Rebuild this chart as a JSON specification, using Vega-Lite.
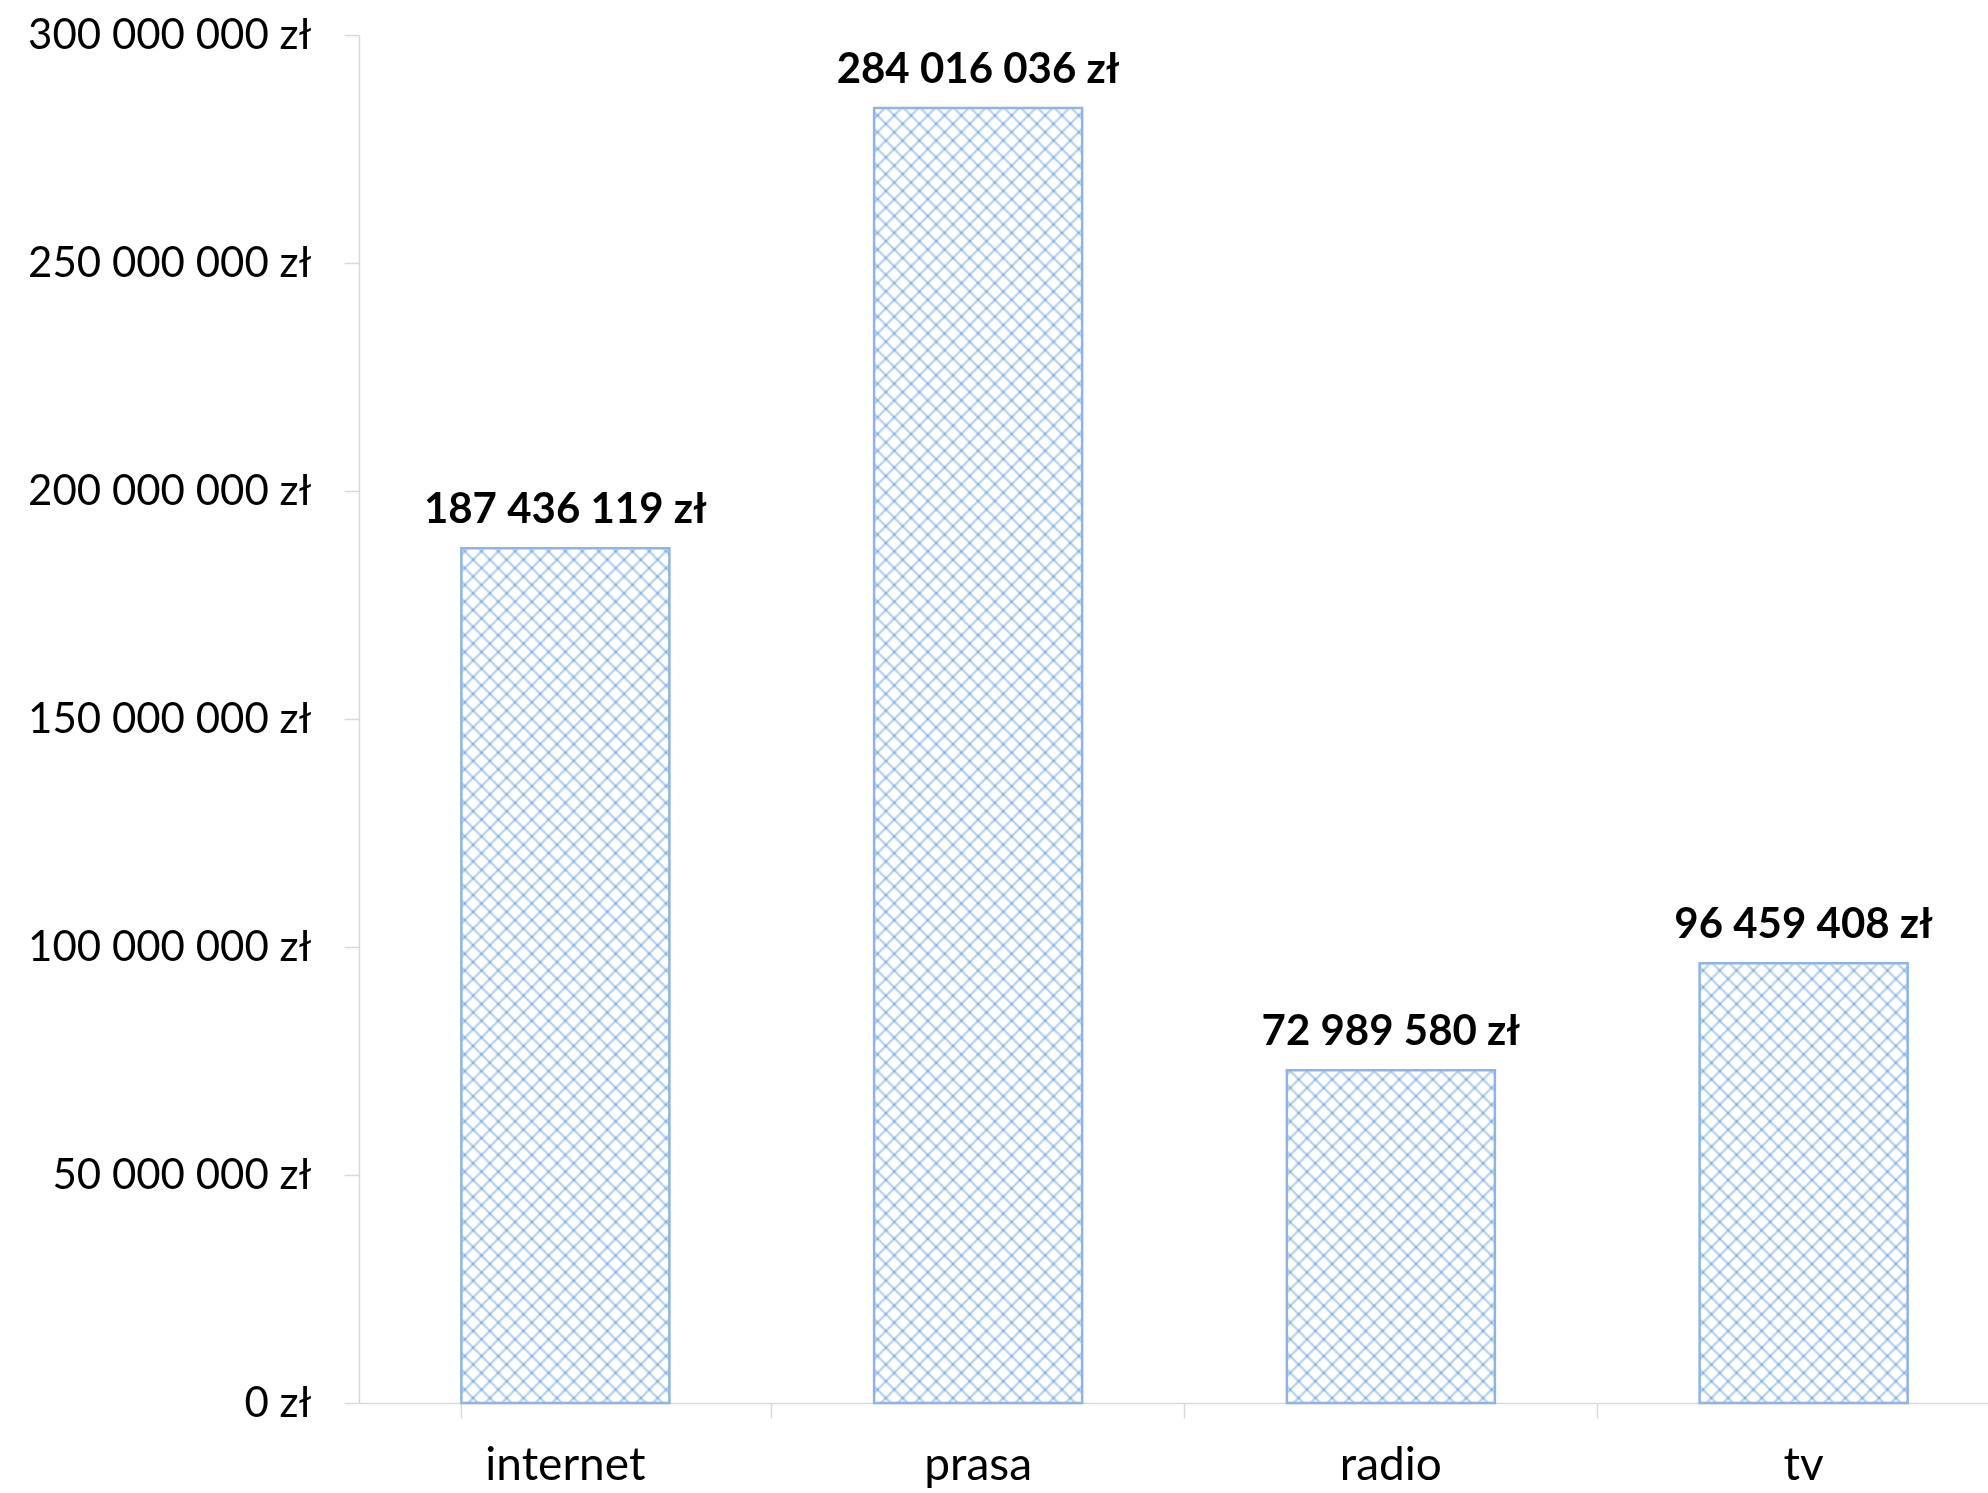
{
"$schema":"https://vega.github.io/schema/vega-lite/v6.json",
"width":1651,"height":1368,
"autosize":"none",
"padding":{"left":359,"top":35,"right":0,"bottom":90},
"background":"white",
"config":{
"view":{"stroke":null},
"font":"Lato",
"locale":{"number":{"decimal":",","thousands":" ","grouping":[3],"currency":["","\u00a0zł"]}},
"axis":{"labelFont":"Lato","labelFontSize":42,"labelColor":"#000","labelLimit":600,"domainColor":"#d9d9d9","tickColor":"#d9d9d9","domainWidth":1.5,"tickWidth":1.5,"tickSize":15,"grid":false}
},
"data":{"values":[
{"cat":"internet","value":187436119},
{"cat":"prasa","value":284016036},
{"cat":"radio","value":72989580},
{"cat":"tv","value":96459408}
]},
"encoding":{"x":{"field":"cat","type":"nominal","sort":null,"title":null,"scale":{"paddingInner":0.496,"paddingOuter":0.248},"axis":{"bandPosition":1.492,"tickExtra":true,"labelAngle":0,"labelFontSize":46,"labelBaseline":"alphabetic","labelPadding":61}}},
"layer":[
{"mark":{"type":"bar","stroke":null,"fill":{"gradient":"linear","x1":0,"y1":0,"x2":0.17121,"y2":1.12601,"stops":[
{"offset":0,"color":"#ace"},{"offset":0.0018,"color":"#fff"},
{"offset":0.0088,"color":"#fff"},{"offset":0.0106,"color":"#ace"},{"offset":0.0124,"color":"#fff"},
{"offset":0.0195,"color":"#fff"},{"offset":0.0213,"color":"#ace"},{"offset":0.0231,"color":"#fff"},
{"offset":0.0301,"color":"#fff"},{"offset":0.0319,"color":"#ace"},{"offset":0.0337,"color":"#fff"},
{"offset":0.0408,"color":"#fff"},{"offset":0.0426,"color":"#ace"},{"offset":0.0444,"color":"#fff"},
{"offset":0.0514,"color":"#fff"},{"offset":0.0532,"color":"#ace"},{"offset":0.0550,"color":"#fff"},
{"offset":0.0620,"color":"#fff"},{"offset":0.0638,"color":"#ace"},{"offset":0.0656,"color":"#fff"},
{"offset":0.0727,"color":"#fff"},{"offset":0.0745,"color":"#ace"},{"offset":0.0763,"color":"#fff"},
{"offset":0.0833,"color":"#fff"},{"offset":0.0851,"color":"#ace"},{"offset":0.0869,"color":"#fff"},
{"offset":0.0939,"color":"#fff"},{"offset":0.0957,"color":"#ace"},{"offset":0.0975,"color":"#fff"},
{"offset":0.1046,"color":"#fff"},{"offset":0.1064,"color":"#ace"},{"offset":0.1082,"color":"#fff"},
{"offset":0.1152,"color":"#fff"},{"offset":0.1170,"color":"#ace"},{"offset":0.1188,"color":"#fff"},
{"offset":0.1259,"color":"#fff"},{"offset":0.1277,"color":"#ace"},{"offset":0.1295,"color":"#fff"},
{"offset":0.1365,"color":"#fff"},{"offset":0.1383,"color":"#ace"},{"offset":0.1401,"color":"#fff"},
{"offset":0.1471,"color":"#fff"},{"offset":0.1489,"color":"#ace"},{"offset":0.1507,"color":"#fff"},
{"offset":0.1578,"color":"#fff"},{"offset":0.1596,"color":"#ace"},{"offset":0.1614,"color":"#fff"},
{"offset":0.1684,"color":"#fff"},{"offset":0.1702,"color":"#ace"},{"offset":0.1720,"color":"#fff"},
{"offset":0.1791,"color":"#fff"},{"offset":0.1809,"color":"#ace"},{"offset":0.1827,"color":"#fff"},
{"offset":0.1897,"color":"#fff"},{"offset":0.1915,"color":"#ace"},{"offset":0.1933,"color":"#fff"},
{"offset":0.2003,"color":"#fff"},{"offset":0.2021,"color":"#ace"},{"offset":0.2039,"color":"#fff"},
{"offset":0.2110,"color":"#fff"},{"offset":0.2128,"color":"#ace"},{"offset":0.2146,"color":"#fff"},
{"offset":0.2216,"color":"#fff"},{"offset":0.2234,"color":"#ace"},{"offset":0.2252,"color":"#fff"},
{"offset":0.2322,"color":"#fff"},{"offset":0.2340,"color":"#ace"},{"offset":0.2358,"color":"#fff"},
{"offset":0.2429,"color":"#fff"},{"offset":0.2447,"color":"#ace"},{"offset":0.2465,"color":"#fff"},
{"offset":0.2535,"color":"#fff"},{"offset":0.2553,"color":"#ace"},{"offset":0.2571,"color":"#fff"},
{"offset":0.2642,"color":"#fff"},{"offset":0.2660,"color":"#ace"},{"offset":0.2678,"color":"#fff"},
{"offset":0.2748,"color":"#fff"},{"offset":0.2766,"color":"#ace"},{"offset":0.2784,"color":"#fff"},
{"offset":0.2854,"color":"#fff"},{"offset":0.2872,"color":"#ace"},{"offset":0.2890,"color":"#fff"},
{"offset":0.2961,"color":"#fff"},{"offset":0.2979,"color":"#ace"},{"offset":0.2997,"color":"#fff"},
{"offset":0.3067,"color":"#fff"},{"offset":0.3085,"color":"#ace"},{"offset":0.3103,"color":"#fff"},
{"offset":0.3173,"color":"#fff"},{"offset":0.3191,"color":"#ace"},{"offset":0.3209,"color":"#fff"},
{"offset":0.3280,"color":"#fff"},{"offset":0.3298,"color":"#ace"},{"offset":0.3316,"color":"#fff"},
{"offset":0.3386,"color":"#fff"},{"offset":0.3404,"color":"#ace"},{"offset":0.3422,"color":"#fff"},
{"offset":0.3493,"color":"#fff"},{"offset":0.3511,"color":"#ace"},{"offset":0.3529,"color":"#fff"},
{"offset":0.3599,"color":"#fff"},{"offset":0.3617,"color":"#ace"},{"offset":0.3635,"color":"#fff"},
{"offset":0.3705,"color":"#fff"},{"offset":0.3723,"color":"#ace"},{"offset":0.3741,"color":"#fff"},
{"offset":0.3812,"color":"#fff"},{"offset":0.3830,"color":"#ace"},{"offset":0.3848,"color":"#fff"},
{"offset":0.3918,"color":"#fff"},{"offset":0.3936,"color":"#ace"},{"offset":0.3954,"color":"#fff"},
{"offset":0.4025,"color":"#fff"},{"offset":0.4043,"color":"#ace"},{"offset":0.4061,"color":"#fff"},
{"offset":0.4131,"color":"#fff"},{"offset":0.4149,"color":"#ace"},{"offset":0.4167,"color":"#fff"},
{"offset":0.4237,"color":"#fff"},{"offset":0.4255,"color":"#ace"},{"offset":0.4273,"color":"#fff"},
{"offset":0.4344,"color":"#fff"},{"offset":0.4362,"color":"#ace"},{"offset":0.4380,"color":"#fff"},
{"offset":0.4450,"color":"#fff"},{"offset":0.4468,"color":"#ace"},{"offset":0.4486,"color":"#fff"},
{"offset":0.4556,"color":"#fff"},{"offset":0.4574,"color":"#ace"},{"offset":0.4592,"color":"#fff"},
{"offset":0.4663,"color":"#fff"},{"offset":0.4681,"color":"#ace"},{"offset":0.4699,"color":"#fff"},
{"offset":0.4769,"color":"#fff"},{"offset":0.4787,"color":"#ace"},{"offset":0.4805,"color":"#fff"},
{"offset":0.4876,"color":"#fff"},{"offset":0.4894,"color":"#ace"},{"offset":0.4912,"color":"#fff"},
{"offset":0.4982,"color":"#fff"},{"offset":0.5000,"color":"#ace"},{"offset":0.5018,"color":"#fff"},
{"offset":0.5088,"color":"#fff"},{"offset":0.5106,"color":"#ace"},{"offset":0.5124,"color":"#fff"},
{"offset":0.5195,"color":"#fff"},{"offset":0.5213,"color":"#ace"},{"offset":0.5231,"color":"#fff"},
{"offset":0.5301,"color":"#fff"},{"offset":0.5319,"color":"#ace"},{"offset":0.5337,"color":"#fff"},
{"offset":0.5408,"color":"#fff"},{"offset":0.5426,"color":"#ace"},{"offset":0.5444,"color":"#fff"},
{"offset":0.5514,"color":"#fff"},{"offset":0.5532,"color":"#ace"},{"offset":0.5550,"color":"#fff"},
{"offset":0.5620,"color":"#fff"},{"offset":0.5638,"color":"#ace"},{"offset":0.5656,"color":"#fff"},
{"offset":0.5727,"color":"#fff"},{"offset":0.5745,"color":"#ace"},{"offset":0.5763,"color":"#fff"},
{"offset":0.5833,"color":"#fff"},{"offset":0.5851,"color":"#ace"},{"offset":0.5869,"color":"#fff"},
{"offset":0.5939,"color":"#fff"},{"offset":0.5957,"color":"#ace"},{"offset":0.5975,"color":"#fff"},
{"offset":0.6046,"color":"#fff"},{"offset":0.6064,"color":"#ace"},{"offset":0.6082,"color":"#fff"},
{"offset":0.6152,"color":"#fff"},{"offset":0.6170,"color":"#ace"},{"offset":0.6188,"color":"#fff"},
{"offset":0.6259,"color":"#fff"},{"offset":0.6277,"color":"#ace"},{"offset":0.6295,"color":"#fff"},
{"offset":0.6365,"color":"#fff"},{"offset":0.6383,"color":"#ace"},{"offset":0.6401,"color":"#fff"},
{"offset":0.6471,"color":"#fff"},{"offset":0.6489,"color":"#ace"},{"offset":0.6507,"color":"#fff"},
{"offset":0.6578,"color":"#fff"},{"offset":0.6596,"color":"#ace"},{"offset":0.6614,"color":"#fff"},
{"offset":0.6684,"color":"#fff"},{"offset":0.6702,"color":"#ace"},{"offset":0.6720,"color":"#fff"},
{"offset":0.6791,"color":"#fff"},{"offset":0.6809,"color":"#ace"},{"offset":0.6827,"color":"#fff"},
{"offset":0.6897,"color":"#fff"},{"offset":0.6915,"color":"#ace"},{"offset":0.6933,"color":"#fff"},
{"offset":0.7003,"color":"#fff"},{"offset":0.7021,"color":"#ace"},{"offset":0.7039,"color":"#fff"},
{"offset":0.7110,"color":"#fff"},{"offset":0.7128,"color":"#ace"},{"offset":0.7146,"color":"#fff"},
{"offset":0.7216,"color":"#fff"},{"offset":0.7234,"color":"#ace"},{"offset":0.7252,"color":"#fff"},
{"offset":0.7322,"color":"#fff"},{"offset":0.7340,"color":"#ace"},{"offset":0.7358,"color":"#fff"},
{"offset":0.7429,"color":"#fff"},{"offset":0.7447,"color":"#ace"},{"offset":0.7465,"color":"#fff"},
{"offset":0.7535,"color":"#fff"},{"offset":0.7553,"color":"#ace"},{"offset":0.7571,"color":"#fff"},
{"offset":0.7642,"color":"#fff"},{"offset":0.7660,"color":"#ace"},{"offset":0.7678,"color":"#fff"},
{"offset":0.7748,"color":"#fff"},{"offset":0.7766,"color":"#ace"},{"offset":0.7784,"color":"#fff"},
{"offset":0.7854,"color":"#fff"},{"offset":0.7872,"color":"#ace"},{"offset":0.7890,"color":"#fff"},
{"offset":0.7961,"color":"#fff"},{"offset":0.7979,"color":"#ace"},{"offset":0.7997,"color":"#fff"},
{"offset":0.8067,"color":"#fff"},{"offset":0.8085,"color":"#ace"},{"offset":0.8103,"color":"#fff"},
{"offset":0.8173,"color":"#fff"},{"offset":0.8191,"color":"#ace"},{"offset":0.8209,"color":"#fff"},
{"offset":0.8280,"color":"#fff"},{"offset":0.8298,"color":"#ace"},{"offset":0.8316,"color":"#fff"},
{"offset":0.8386,"color":"#fff"},{"offset":0.8404,"color":"#ace"},{"offset":0.8422,"color":"#fff"},
{"offset":0.8493,"color":"#fff"},{"offset":0.8511,"color":"#ace"},{"offset":0.8529,"color":"#fff"},
{"offset":0.8599,"color":"#fff"},{"offset":0.8617,"color":"#ace"},{"offset":0.8635,"color":"#fff"},
{"offset":0.8705,"color":"#fff"},{"offset":0.8723,"color":"#ace"},{"offset":0.8741,"color":"#fff"},
{"offset":0.8812,"color":"#fff"},{"offset":0.8830,"color":"#ace"},{"offset":0.8848,"color":"#fff"},
{"offset":0.8918,"color":"#fff"},{"offset":0.8936,"color":"#ace"},{"offset":0.8954,"color":"#fff"},
{"offset":0.9025,"color":"#fff"},{"offset":0.9043,"color":"#ace"},{"offset":0.9061,"color":"#fff"},
{"offset":0.9131,"color":"#fff"},{"offset":0.9149,"color":"#ace"},{"offset":0.9167,"color":"#fff"},
{"offset":0.9237,"color":"#fff"},{"offset":0.9255,"color":"#ace"},{"offset":0.9273,"color":"#fff"},
{"offset":0.9344,"color":"#fff"},{"offset":0.9362,"color":"#ace"},{"offset":0.9380,"color":"#fff"},
{"offset":0.9450,"color":"#fff"},{"offset":0.9468,"color":"#ace"},{"offset":0.9486,"color":"#fff"},
{"offset":0.9556,"color":"#fff"},{"offset":0.9574,"color":"#ace"},{"offset":0.9592,"color":"#fff"},
{"offset":0.9663,"color":"#fff"},{"offset":0.9681,"color":"#ace"},{"offset":0.9699,"color":"#fff"},
{"offset":0.9769,"color":"#fff"},{"offset":0.9787,"color":"#ace"},{"offset":0.9805,"color":"#fff"},
{"offset":0.9876,"color":"#fff"},{"offset":0.9894,"color":"#ace"},{"offset":0.9912,"color":"#fff"},
{"offset":0.9982,"color":"#fff"},{"offset":1,"color":"#ace"}
]}},
"encoding":{"y":{"datum":0,"type":"quantitative","title":null,"scale":{"domain":[0,300000000],"nice":false},"axis":{"format":"$,.0f","labelPadding":33,"values":[0,50000000,100000000,150000000,200000000,250000000,300000000]}},"y2":{"datum":300000000}}},
{"mark":{"type":"bar","stroke":null,"blend":"multiply","fill":{"gradient":"linear","x1":0,"y1":1,"x2":0.17121,"y2":-0.12601,"stops":[
{"offset":0,"color":"#ace"},{"offset":0.0018,"color":"#fff"},
{"offset":0.0088,"color":"#fff"},{"offset":0.0106,"color":"#ace"},{"offset":0.0124,"color":"#fff"},
{"offset":0.0195,"color":"#fff"},{"offset":0.0213,"color":"#ace"},{"offset":0.0231,"color":"#fff"},
{"offset":0.0301,"color":"#fff"},{"offset":0.0319,"color":"#ace"},{"offset":0.0337,"color":"#fff"},
{"offset":0.0408,"color":"#fff"},{"offset":0.0426,"color":"#ace"},{"offset":0.0444,"color":"#fff"},
{"offset":0.0514,"color":"#fff"},{"offset":0.0532,"color":"#ace"},{"offset":0.0550,"color":"#fff"},
{"offset":0.0620,"color":"#fff"},{"offset":0.0638,"color":"#ace"},{"offset":0.0656,"color":"#fff"},
{"offset":0.0727,"color":"#fff"},{"offset":0.0745,"color":"#ace"},{"offset":0.0763,"color":"#fff"},
{"offset":0.0833,"color":"#fff"},{"offset":0.0851,"color":"#ace"},{"offset":0.0869,"color":"#fff"},
{"offset":0.0939,"color":"#fff"},{"offset":0.0957,"color":"#ace"},{"offset":0.0975,"color":"#fff"},
{"offset":0.1046,"color":"#fff"},{"offset":0.1064,"color":"#ace"},{"offset":0.1082,"color":"#fff"},
{"offset":0.1152,"color":"#fff"},{"offset":0.1170,"color":"#ace"},{"offset":0.1188,"color":"#fff"},
{"offset":0.1259,"color":"#fff"},{"offset":0.1277,"color":"#ace"},{"offset":0.1295,"color":"#fff"},
{"offset":0.1365,"color":"#fff"},{"offset":0.1383,"color":"#ace"},{"offset":0.1401,"color":"#fff"},
{"offset":0.1471,"color":"#fff"},{"offset":0.1489,"color":"#ace"},{"offset":0.1507,"color":"#fff"},
{"offset":0.1578,"color":"#fff"},{"offset":0.1596,"color":"#ace"},{"offset":0.1614,"color":"#fff"},
{"offset":0.1684,"color":"#fff"},{"offset":0.1702,"color":"#ace"},{"offset":0.1720,"color":"#fff"},
{"offset":0.1791,"color":"#fff"},{"offset":0.1809,"color":"#ace"},{"offset":0.1827,"color":"#fff"},
{"offset":0.1897,"color":"#fff"},{"offset":0.1915,"color":"#ace"},{"offset":0.1933,"color":"#fff"},
{"offset":0.2003,"color":"#fff"},{"offset":0.2021,"color":"#ace"},{"offset":0.2039,"color":"#fff"},
{"offset":0.2110,"color":"#fff"},{"offset":0.2128,"color":"#ace"},{"offset":0.2146,"color":"#fff"},
{"offset":0.2216,"color":"#fff"},{"offset":0.2234,"color":"#ace"},{"offset":0.2252,"color":"#fff"},
{"offset":0.2322,"color":"#fff"},{"offset":0.2340,"color":"#ace"},{"offset":0.2358,"color":"#fff"},
{"offset":0.2429,"color":"#fff"},{"offset":0.2447,"color":"#ace"},{"offset":0.2465,"color":"#fff"},
{"offset":0.2535,"color":"#fff"},{"offset":0.2553,"color":"#ace"},{"offset":0.2571,"color":"#fff"},
{"offset":0.2642,"color":"#fff"},{"offset":0.2660,"color":"#ace"},{"offset":0.2678,"color":"#fff"},
{"offset":0.2748,"color":"#fff"},{"offset":0.2766,"color":"#ace"},{"offset":0.2784,"color":"#fff"},
{"offset":0.2854,"color":"#fff"},{"offset":0.2872,"color":"#ace"},{"offset":0.2890,"color":"#fff"},
{"offset":0.2961,"color":"#fff"},{"offset":0.2979,"color":"#ace"},{"offset":0.2997,"color":"#fff"},
{"offset":0.3067,"color":"#fff"},{"offset":0.3085,"color":"#ace"},{"offset":0.3103,"color":"#fff"},
{"offset":0.3173,"color":"#fff"},{"offset":0.3191,"color":"#ace"},{"offset":0.3209,"color":"#fff"},
{"offset":0.3280,"color":"#fff"},{"offset":0.3298,"color":"#ace"},{"offset":0.3316,"color":"#fff"},
{"offset":0.3386,"color":"#fff"},{"offset":0.3404,"color":"#ace"},{"offset":0.3422,"color":"#fff"},
{"offset":0.3493,"color":"#fff"},{"offset":0.3511,"color":"#ace"},{"offset":0.3529,"color":"#fff"},
{"offset":0.3599,"color":"#fff"},{"offset":0.3617,"color":"#ace"},{"offset":0.3635,"color":"#fff"},
{"offset":0.3705,"color":"#fff"},{"offset":0.3723,"color":"#ace"},{"offset":0.3741,"color":"#fff"},
{"offset":0.3812,"color":"#fff"},{"offset":0.3830,"color":"#ace"},{"offset":0.3848,"color":"#fff"},
{"offset":0.3918,"color":"#fff"},{"offset":0.3936,"color":"#ace"},{"offset":0.3954,"color":"#fff"},
{"offset":0.4025,"color":"#fff"},{"offset":0.4043,"color":"#ace"},{"offset":0.4061,"color":"#fff"},
{"offset":0.4131,"color":"#fff"},{"offset":0.4149,"color":"#ace"},{"offset":0.4167,"color":"#fff"},
{"offset":0.4237,"color":"#fff"},{"offset":0.4255,"color":"#ace"},{"offset":0.4273,"color":"#fff"},
{"offset":0.4344,"color":"#fff"},{"offset":0.4362,"color":"#ace"},{"offset":0.4380,"color":"#fff"},
{"offset":0.4450,"color":"#fff"},{"offset":0.4468,"color":"#ace"},{"offset":0.4486,"color":"#fff"},
{"offset":0.4556,"color":"#fff"},{"offset":0.4574,"color":"#ace"},{"offset":0.4592,"color":"#fff"},
{"offset":0.4663,"color":"#fff"},{"offset":0.4681,"color":"#ace"},{"offset":0.4699,"color":"#fff"},
{"offset":0.4769,"color":"#fff"},{"offset":0.4787,"color":"#ace"},{"offset":0.4805,"color":"#fff"},
{"offset":0.4876,"color":"#fff"},{"offset":0.4894,"color":"#ace"},{"offset":0.4912,"color":"#fff"},
{"offset":0.4982,"color":"#fff"},{"offset":0.5000,"color":"#ace"},{"offset":0.5018,"color":"#fff"},
{"offset":0.5088,"color":"#fff"},{"offset":0.5106,"color":"#ace"},{"offset":0.5124,"color":"#fff"},
{"offset":0.5195,"color":"#fff"},{"offset":0.5213,"color":"#ace"},{"offset":0.5231,"color":"#fff"},
{"offset":0.5301,"color":"#fff"},{"offset":0.5319,"color":"#ace"},{"offset":0.5337,"color":"#fff"},
{"offset":0.5408,"color":"#fff"},{"offset":0.5426,"color":"#ace"},{"offset":0.5444,"color":"#fff"},
{"offset":0.5514,"color":"#fff"},{"offset":0.5532,"color":"#ace"},{"offset":0.5550,"color":"#fff"},
{"offset":0.5620,"color":"#fff"},{"offset":0.5638,"color":"#ace"},{"offset":0.5656,"color":"#fff"},
{"offset":0.5727,"color":"#fff"},{"offset":0.5745,"color":"#ace"},{"offset":0.5763,"color":"#fff"},
{"offset":0.5833,"color":"#fff"},{"offset":0.5851,"color":"#ace"},{"offset":0.5869,"color":"#fff"},
{"offset":0.5939,"color":"#fff"},{"offset":0.5957,"color":"#ace"},{"offset":0.5975,"color":"#fff"},
{"offset":0.6046,"color":"#fff"},{"offset":0.6064,"color":"#ace"},{"offset":0.6082,"color":"#fff"},
{"offset":0.6152,"color":"#fff"},{"offset":0.6170,"color":"#ace"},{"offset":0.6188,"color":"#fff"},
{"offset":0.6259,"color":"#fff"},{"offset":0.6277,"color":"#ace"},{"offset":0.6295,"color":"#fff"},
{"offset":0.6365,"color":"#fff"},{"offset":0.6383,"color":"#ace"},{"offset":0.6401,"color":"#fff"},
{"offset":0.6471,"color":"#fff"},{"offset":0.6489,"color":"#ace"},{"offset":0.6507,"color":"#fff"},
{"offset":0.6578,"color":"#fff"},{"offset":0.6596,"color":"#ace"},{"offset":0.6614,"color":"#fff"},
{"offset":0.6684,"color":"#fff"},{"offset":0.6702,"color":"#ace"},{"offset":0.6720,"color":"#fff"},
{"offset":0.6791,"color":"#fff"},{"offset":0.6809,"color":"#ace"},{"offset":0.6827,"color":"#fff"},
{"offset":0.6897,"color":"#fff"},{"offset":0.6915,"color":"#ace"},{"offset":0.6933,"color":"#fff"},
{"offset":0.7003,"color":"#fff"},{"offset":0.7021,"color":"#ace"},{"offset":0.7039,"color":"#fff"},
{"offset":0.7110,"color":"#fff"},{"offset":0.7128,"color":"#ace"},{"offset":0.7146,"color":"#fff"},
{"offset":0.7216,"color":"#fff"},{"offset":0.7234,"color":"#ace"},{"offset":0.7252,"color":"#fff"},
{"offset":0.7322,"color":"#fff"},{"offset":0.7340,"color":"#ace"},{"offset":0.7358,"color":"#fff"},
{"offset":0.7429,"color":"#fff"},{"offset":0.7447,"color":"#ace"},{"offset":0.7465,"color":"#fff"},
{"offset":0.7535,"color":"#fff"},{"offset":0.7553,"color":"#ace"},{"offset":0.7571,"color":"#fff"},
{"offset":0.7642,"color":"#fff"},{"offset":0.7660,"color":"#ace"},{"offset":0.7678,"color":"#fff"},
{"offset":0.7748,"color":"#fff"},{"offset":0.7766,"color":"#ace"},{"offset":0.7784,"color":"#fff"},
{"offset":0.7854,"color":"#fff"},{"offset":0.7872,"color":"#ace"},{"offset":0.7890,"color":"#fff"},
{"offset":0.7961,"color":"#fff"},{"offset":0.7979,"color":"#ace"},{"offset":0.7997,"color":"#fff"},
{"offset":0.8067,"color":"#fff"},{"offset":0.8085,"color":"#ace"},{"offset":0.8103,"color":"#fff"},
{"offset":0.8173,"color":"#fff"},{"offset":0.8191,"color":"#ace"},{"offset":0.8209,"color":"#fff"},
{"offset":0.8280,"color":"#fff"},{"offset":0.8298,"color":"#ace"},{"offset":0.8316,"color":"#fff"},
{"offset":0.8386,"color":"#fff"},{"offset":0.8404,"color":"#ace"},{"offset":0.8422,"color":"#fff"},
{"offset":0.8493,"color":"#fff"},{"offset":0.8511,"color":"#ace"},{"offset":0.8529,"color":"#fff"},
{"offset":0.8599,"color":"#fff"},{"offset":0.8617,"color":"#ace"},{"offset":0.8635,"color":"#fff"},
{"offset":0.8705,"color":"#fff"},{"offset":0.8723,"color":"#ace"},{"offset":0.8741,"color":"#fff"},
{"offset":0.8812,"color":"#fff"},{"offset":0.8830,"color":"#ace"},{"offset":0.8848,"color":"#fff"},
{"offset":0.8918,"color":"#fff"},{"offset":0.8936,"color":"#ace"},{"offset":0.8954,"color":"#fff"},
{"offset":0.9025,"color":"#fff"},{"offset":0.9043,"color":"#ace"},{"offset":0.9061,"color":"#fff"},
{"offset":0.9131,"color":"#fff"},{"offset":0.9149,"color":"#ace"},{"offset":0.9167,"color":"#fff"},
{"offset":0.9237,"color":"#fff"},{"offset":0.9255,"color":"#ace"},{"offset":0.9273,"color":"#fff"},
{"offset":0.9344,"color":"#fff"},{"offset":0.9362,"color":"#ace"},{"offset":0.9380,"color":"#fff"},
{"offset":0.9450,"color":"#fff"},{"offset":0.9468,"color":"#ace"},{"offset":0.9486,"color":"#fff"},
{"offset":0.9556,"color":"#fff"},{"offset":0.9574,"color":"#ace"},{"offset":0.9592,"color":"#fff"},
{"offset":0.9663,"color":"#fff"},{"offset":0.9681,"color":"#ace"},{"offset":0.9699,"color":"#fff"},
{"offset":0.9769,"color":"#fff"},{"offset":0.9787,"color":"#ace"},{"offset":0.9805,"color":"#fff"},
{"offset":0.9876,"color":"#fff"},{"offset":0.9894,"color":"#ace"},{"offset":0.9912,"color":"#fff"},
{"offset":0.9982,"color":"#fff"},{"offset":1,"color":"#ace"}
]}},
"encoding":{"y":{"datum":0,"type":"quantitative","title":null},"y2":{"datum":300000000}}},
{"mark":{"type":"bar","fill":"white","stroke":"white","strokeWidth":2},
"encoding":{"y":{"field":"value","type":"quantitative","title":null},"y2":{"datum":300000000}}},
{"mark":{"type":"bar","fill":"white","fillOpacity":0,"stroke":"#8eb4e3","strokeWidth":2.5},
"encoding":{"y":{"field":"value","type":"quantitative","title":null}}},
{"mark":{"type":"text","font":"Lato","fontWeight":"bold","fontSize":42,"baseline":"alphabetic","dy":-25,"fill":"#000"},
"encoding":{"y":{"field":"value","type":"quantitative","title":null},"text":{"field":"value","type":"quantitative","format":"$,.0f"}}}
]
}
